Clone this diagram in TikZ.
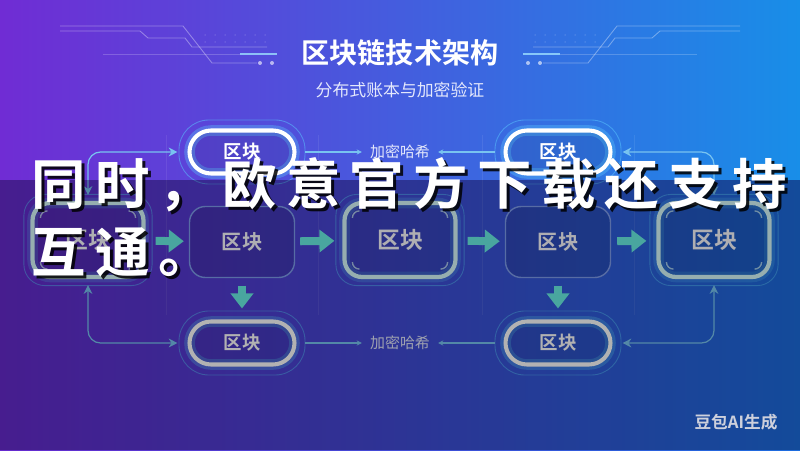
\documentclass[tikz,border=0pt]{standalone}
\usepackage{fontspec}
\setmainfont{Noto Sans CJK SC}[BoldFont={Noto Sans CJK SC Bold}]
\newfontfamily\velikifont{Noto Sans CJK SC}[BoldFont={Noto Sans CJK SC Bold}, LetterSpace=17]
\usetikzlibrary{positioning, arrows, arrows.meta, calc}

\definecolor{bgl}{RGB}{112,44,212}
\definecolor{bgr}{RGB}{24,142,232}
\definecolor{bgdl}{RGB}{102,42,206}
\definecolor{bgdr}{RGB}{28,108,222}
\definecolor{okvir}{RGB}{125,155,235}
\definecolor{natpis}{RGB}{250,250,255}
\definecolor{rub}{RGB}{215,250,252}
\definecolor{sjaj}{RGB}{90,200,255}
\definecolor{veza}{RGB}{120,195,240}
\definecolor{tirkiz}{RGB}{105,238,228}
\definecolor{podnatpis}{RGB}{228,232,252}
\definecolor{zig}{RGB}{205,208,220}

\begin{document}
\begin{tikzpicture}[font=\bfseries, >={Stealth[length=5pt, width=5pt]},
    blk/.style={rectangle, rounded corners=9pt, draw=okvir, line width=0.8pt,
                fill=black, fill opacity=0.12, text opacity=1, text=natpis,
                minimum width=2.1cm, minimum height=1.42cm,
                font=\bfseries\fontsize{11.5}{12}\selectfont},
    hblk/.style={rectangle, rounded corners=10pt, draw=rub, line width=2.4pt,
                 fill=black, fill opacity=0.10, text opacity=1, text=natpis,
                 minimum width=2.22cm, minimum height=1.48cm,
                 font=\bfseries\fontsize{13}{14}\selectfont,
                 preaction={draw=sjaj, line width=6pt, draw opacity=0.25}},
    pill/.style={rectangle, rounded corners=0.43cm, draw=white, line width=2.3pt,
                 fill=black, fill opacity=0.08, text opacity=1, text=white,
                 minimum width=2.1cm, minimum height=0.86cm,
                 font=\bfseries\fontsize{10.5}{11}\selectfont,
                 preaction={draw=sjaj, line width=6pt, draw opacity=0.35}},
    hash/.style={text=podnatpis, font=\mdseries\fontsize{8.5}{9}\selectfont},
    halo/.style={draw=sjaj, line width=0.5pt, draw opacity=0.5},
    tick/.style={draw=rub, line width=0.8pt, draw opacity=0.7},
    tanka/.style={<->, draw=veza, line width=0.7pt, rounded corners=0.25cm},
    kratka/.style={-{Stealth[length=3pt, width=3pt]}, draw=veza, line width=0.6pt},
    debela/.style={-{Triangle[length=0.3cm, width=0.44cm]}, line width=0.16cm, draw=tirkiz},
    velika/.style={anchor=west, inner sep=0, font=\velikifont\bfseries\fontsize{31}{31}\selectfont}]

    \useasboundingbox (0,0) rectangle (16,9);
    \clip (0,0) rectangle (16,9);

    % ---------------- pozadina ----------------
    \shade [left color=bgl, right color=bgr] (0,5.4) rectangle (16,9);
    \shade [left color=bgdl, right color=bgdr] (0,0) rectangle (16,5.4);
    \foreach \s in {1,-1} {
        \begin{scope}[shift={(8,0)}, xscale=\s, white, line width=0.5pt]
            \draw [opacity=0.35] (-6.8,8.48) -- (-4.34,8.48) -- (-3.76,7.74) -- (-2.86,7.74);
            \draw [opacity=0.35] (-6.8,8.38) -- (-5.2,8.38) -- (-5.04,8.24) -- (-4.3,8.24) -- (-4.16,8.06) -- (-2.66,8.06);
            \draw [opacity=0.2] (-5.94,7.92) -- (-3.2,7.92);
            \draw [sjaj!60!white, line width=1.6pt, opacity=0.8] (-3.2,7.92) -- (-2.46,7.92);
            \fill [opacity=0.6] (-2.8,7.74) circle (0.04) (-2.56,7.74) circle (0.04);
            \foreach \x in {-3.9,-3.7,...,-2.7} \fill [opacity=0.2] (\x,8.16) circle (0.015) (\x,8.3) circle (0.015);
        \end{scope}
    }
    \foreach \x in {3.32, 6.36, 9.64, 12.68}
        \draw [white, opacity=0.08, line width=0.4pt] (\x,2.7) -- (\x,6.3);

    % ---------------- naslov ----------------
    \node (naslov)    [text=white, font=\bfseries\fontsize{16}{16}\selectfont] at (8,7.94) {区块链技术架构};
    \node (podnaslov) [text=podnatpis, font=\mdseries\fontsize{9.6}{10}\selectfont] at (8,7.2) {分布式账本与加密验证};

    % ---------------- blokovi ----------------
    \node (p1) [pill] at (4.84,5.96)  {区块};
    \node (p2) [pill] at (11.16,5.96) {区块};
    \node (h1) [hash] at (8,5.96)     {加密哈希};
    \node (b1) [hblk] at (1.76,4.2)   {区块};
    \node (b2) [blk]  at (4.84,4.16)  {区块};
    \node (b3) [hblk] at (8,4.2)      {区块};
    \node (b4) [blk]  at (11.16,4.16) {区块};
    \node (b5) [hblk] at (14.28,4.2)  {区块};
    \node (p3) [pill] at (4.84,2.14)  {区块};
    \node (p4) [pill] at (11.16,2.14) {区块};
    \node (h2) [hash] at (8,2.14)     {加密哈希};

    % obrub i uglovi
    \foreach \n in {p1,p2,p3,p4}
        \draw [halo, rounded corners=0.6cm] ([shift={(-0.17,-0.17)}]\n.south west) rectangle ([shift={(0.17,0.17)}]\n.north east);
    \foreach \n in {b1,b3,b5} {
        \draw [halo, rounded corners=12pt] ([shift={(-0.13,-0.13)}]\n.south west) rectangle ([shift={(0.13,0.13)}]\n.north east);
        \draw [tick] ([shift={(0.2,-0.34)}]\n.north west) arc (180:90:0.14);
        \draw [tick] ([shift={(-0.34,-0.2)}]\n.north east) arc (90:0:0.14);
        \draw [tick] ([shift={(-0.2,0.34)}]\n.south east) arc (0:-90:0.14);
        \draw [tick] ([shift={(0.34,0.2)}]\n.south west) arc (270:180:0.14);
    }

    % ---------------- veze ----------------
    \draw [debela, shorten <=0.2cm, shorten >=0.1cm] (b1) -- (b2);
    \draw [debela, shorten <=0.1cm, shorten >=0.16cm] (b2) -- (b3);
    \draw [debela, shorten <=0.2cm, shorten >=0.1cm] (b3) -- (b4);
    \draw [debela, shorten <=0.12cm, shorten >=0.2cm] (b4) -- (b5);
    \draw [debela, shorten <=0.15cm, shorten >=0.22cm] (b2) -- (p3);
    \draw [debela, shorten <=0.15cm, shorten >=0.22cm] (b4) -- (p4);

    \draw [kratka, shorten <=0.17cm, shorten >=0.04cm] (p1) -- (h1);
    \draw [kratka, shorten <=0.17cm, shorten >=0.04cm] (p2) -- (h1);
    \draw [kratka, shorten <=0.17cm, shorten >=0.04cm] (p3) -- (h2);
    \draw [kratka, shorten <=0.17cm, shorten >=0.04cm] (p4) -- (h2);

    \draw [tanka, shorten <=0.12cm, shorten >=0.2cm] (b1) |- (p1);
    \draw [tanka, shorten <=0.2cm, shorten >=0.12cm] (p2) -| (b5);
    \draw [tanka, shorten <=0.12cm, shorten >=0.2cm] (b1) |- (p3);
    \draw [tanka, shorten <=0.2cm, shorten >=0.12cm] (p4) -| (b5);

    % ---------------- preklop ----------------
    \fill [black, opacity=0.3] (0,0) rectangle (16,5.4);
    \node (t1s) [velika, text=black, text opacity=0.85] at (0.68,5.24) {同时，欧意官方下载还支持};
    \node (t1)  [velika, text=white] at (0.62,5.3) {同时，欧意官方下载还支持};
    \node (t2s) [velika, text=black, text opacity=0.85] at (0.68,3.9) {互通。};
    \node (t2)  [velika, text=white] at (0.62,3.96) {互通。};

    \node (zig) [text=zig, font=\bfseries\fontsize{9.5}{10}\selectfont] at (14.72,0.56) {豆包AI生成};
\end{tikzpicture}
\end{document}
